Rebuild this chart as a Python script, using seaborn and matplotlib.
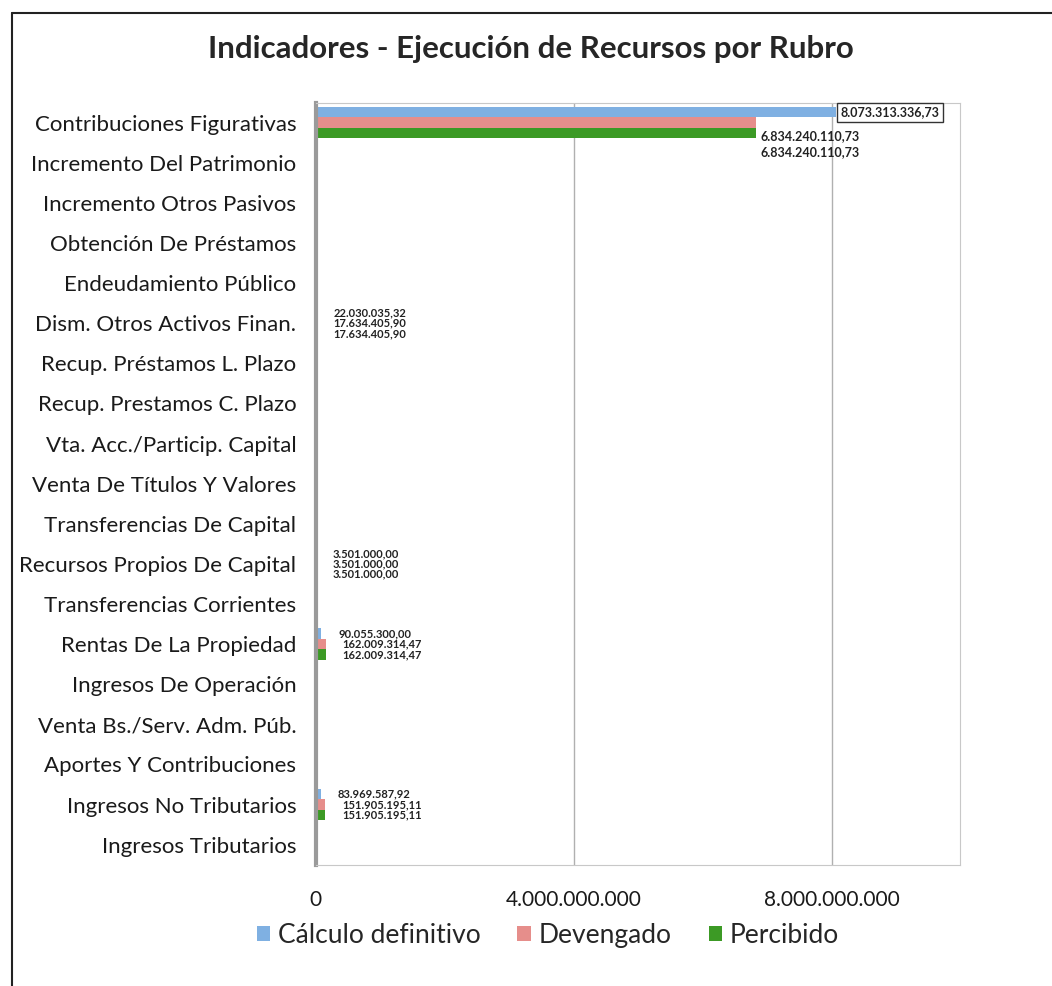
import pandas as pd
import matplotlib.pyplot as plt
import seaborn as sns
from matplotlib.lines import Line2D

sns.set_style("white")
plt.rcParams["font.family"] = ["Lato", "DejaVu Sans"]

rubros = [
    "Contribuciones Figurativas",
    "Incremento Del Patrimonio",
    "Incremento Otros Pasivos",
    "Obtención De Préstamos",
    "Endeudamiento Público",
    "Dism. Otros Activos Finan.",
    "Recup. Préstamos L. Plazo",
    "Recup. Prestamos C. Plazo",
    "Vta. Acc./Particip. Capital",
    "Venta De Títulos Y Valores",
    "Transferencias De Capital",
    "Recursos Propios De Capital",
    "Transferencias Corrientes",
    "Rentas De La Propiedad",
    "Ingresos De Operación",
    "Venta Bs./Serv. Adm. Púb.",
    "Aportes Y Contribuciones",
    "Ingresos No Tributarios",
    "Ingresos Tributarios",
]

calculo = [8073313336.73, 0, 0, 0, 0, 22030035.32, 0, 0, 0, 0, 0,
           3501000.00, 0, 90055300.00, 0, 0, 0, 83969587.92, 0]
devengado = [6834240110.73, 0, 0, 0, 0, 17634405.90, 0, 0, 0, 0, 0,
             3501000.00, 0, 162009314.47, 0, 0, 0, 151905195.11, 0]
percibido = [6834240110.73, 0, 0, 0, 0, 17634405.90, 0, 0, 0, 0, 0,
             3501000.00, 0, 162009314.47, 0, 0, 0, 151905195.11, 0]

series = ["Cálculo definitivo", "Devengado", "Percibido"]
colores = ["#7fb0e2", "#e68e8b", "#3c9a25"]

df = pd.DataFrame({
    "rubro": rubros * 3,
    "serie": [series[0]] * 19 + [series[1]] * 19 + [series[2]] * 19,
    "valor": calculo + devengado + percibido,
})


def fmt(v, dec=2):
    s = f"{v:,.{dec}f}"
    return s.replace(",", "X").replace(".", ",").replace("X", ".")


fig = plt.figure(figsize=(10.52, 9.86), dpi=100)
ax = fig.add_axes([0.300, 0.123, 0.613, 0.773])

sns.barplot(
    data=df,
    x="valor",
    y="rubro",
    hue="serie",
    order=rubros,
    hue_order=series,
    palette=colores,
    saturation=1,
    orient="h",
    width=0.78,
    linewidth=0,
    ax=ax,
)

ax.set_xlim(0, 1.0e10)
ax.set_xticks([0, 4e9, 8e9])
ax.set_xticklabels([fmt(t, 0) for t in [0, 4e9, 8e9]], fontsize=15, color="#1a1a1a")
ax.tick_params(axis="x", pad=18, length=0)
ax.tick_params(axis="y", labelsize=16, pad=14, length=0, labelcolor="#1a1a1a")
ax.set_xlabel("")
ax.set_ylabel("")
ax.xaxis.grid(True, color="#b0b0b0", linewidth=1)
ax.set_axisbelow(True)
for s in ["top", "right", "bottom"]:
    ax.spines[s].set_color("#c8c8c8")
ax.spines["left"].set_color("#9a9a9a")
ax.spines["left"].set_linewidth(3)

# etiquetas de datos
desplaz_grande = [0, -10, -14]
for ci, cont in enumerate(ax.containers):
    for bi, bar in enumerate(cont):
        v = bar.get_width()
        if v <= 0:
            continue
        big = v > 1e9
        yc = bar.get_y() + bar.get_height() / 2
        dy = desplaz_grande[ci] if big else 0
        t = ax.annotate(
            fmt(v), (v, yc), xytext=(3 if big else 12, dy),
            textcoords="offset points", va="center", ha="left",
            fontsize=9 if big else 8, fontweight="bold", color="#222222",
        )
        if big and ci == 0:
            t.set_bbox(dict(facecolor="white", edgecolor="#333333",
                            linewidth=1, pad=2.5))

ax.legend(
    loc="upper center", bbox_to_anchor=(0.36, -0.045), ncol=3,
    frameon=False, fontsize=19, handlelength=0.5, handleheight=0.5,
    handletextpad=0.3, columnspacing=1.4,
)

fig.text(0.505, 0.95, "Indicadores - Ejecución de Recursos por Rubro",
         ha="center", va="center", fontsize=22.5, fontweight="bold")

fig.add_artist(Line2D([0.0114, 1.0], [0.987, 0.987], color="#222222", linewidth=1.5))
fig.add_artist(Line2D([0.0114, 0.0114], [0.987, 0.0], color="#222222", linewidth=1.5))

plt.savefig("out.png", dpi=100)
